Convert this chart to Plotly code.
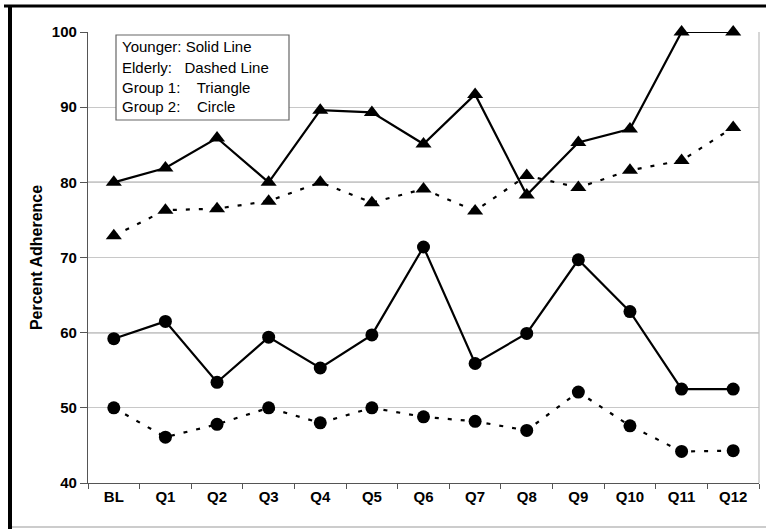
import plotly.graph_objects as go

categories = ["BL", "Q1", "Q2", "Q3", "Q4", "Q5", "Q6", "Q7", "Q8", "Q9", "Q10", "Q11", "Q12"]
younger_g1 = [80.0, 81.9, 85.9, 80.0, 89.6, 89.3, 85.1, 91.7, 78.3, 85.3, 87.1, 100.0, 100.0]
elderly_g1 = [72.9, 76.3, 76.5, 77.5, 80.0, 77.3, 79.1, 76.2, 80.9, 79.3, 81.6, 82.9, 87.3]
younger_g2 = [59.2, 61.5, 53.4, 59.4, 55.3, 59.7, 71.4, 55.9, 59.9, 69.7, 62.8, 52.5, 52.5]
elderly_g2 = [50.0, 46.1, 47.8, 50.0, 48.0, 50.0, 48.8, 48.2, 47.0, 52.1, 47.6, 44.2, 44.3]
y_ticks = [40, 50, 60, 70, 80, 90, 100]
legend_lines = ["Younger: Solid Line", "Elderly:\u00a0\u00a0 Dashed Line",
                "Group 1:\u00a0\u00a0\u00a0 Triangle", "Group 2:\u00a0\u00a0\u00a0 Circle"]

FONT = "Liberation Sans, Arial, sans-serif"
fig = go.Figure()

def add(vals, symbol, dash, size):
    fig.add_trace(go.Scatter(
        x=categories, y=vals, mode="lines+markers",
        line=dict(color="black", width=2.2, dash=dash),
        marker=dict(symbol=symbol, size=size, color="black"),
        showlegend=False, cliponaxis=False))

add(younger_g1, "triangle-up", "solid", 14)
add(elderly_g1, "triangle-up", "4px,9px", 14)
add(younger_g2, "circle", "solid", 13)
add(elderly_g2, "circle", "4px,9px", 13)

W, H = 766, 529
L, R, T, B = 88, 7, 32, 46
pw, ph = W - L - R, H - T - B

def px(x):
    return (x - L) / pw

def py(y):
    return (H - B - y) / ph

shapes = []
for v in [60, 80]:
    shapes.append(dict(type="line", xref="paper", yref="y", x0=0, x1=1, y0=v, y1=v,
                       line=dict(color="#555555", width=1.3), layer="below"))
shapes.append(dict(type="line", xref="paper", yref="paper", x0=1, x1=1, y0=0, y1=1,
                   line=dict(color="#bbbbbb", width=1.2)))
shapes.append(dict(type="line", xref="paper", yref="paper", x0=px(4), x1=px(766), y0=py(6), y1=py(6),
                   line=dict(color="black", width=3)))
shapes.append(dict(type="line", xref="paper", yref="paper", x0=px(10), x1=px(10), y0=py(5), y1=py(529),
                   line=dict(color="black", width=4)))
shapes.append(dict(type="line", xref="paper", yref="paper", x0=px(12), x1=px(766), y0=py(527), y1=py(527),
                   line=dict(color="#bbbbbb", width=1.5)))
shapes.append(dict(type="rect", xref="paper", yref="paper", x0=px(116), x1=px(289), y0=py(120), y1=py(35),
                   line=dict(color="#666666", width=1.2), fillcolor="white"))

annotations = []
for i, t in enumerate(legend_lines):
    annotations.append(dict(xref="paper", yref="paper", x=px(120), y=py(47 + 20 * i),
                            xanchor="left", yanchor="middle", showarrow=False, text=t,
                            font=dict(family=FONT, size=15, color="black")))

fig.update_layout(
    width=W, height=H,
    margin=dict(l=L, r=R, t=T, b=B),
    paper_bgcolor="white", plot_bgcolor="white",
    font=dict(family=FONT, color="black"),
    shapes=shapes, annotations=annotations,
    xaxis=dict(type="category", showgrid=False, showline=True, linecolor="#555555", linewidth=1.3,
               ticks="outside", tickson="boundaries", ticklen=5, tickcolor="#555555",
               tickfont=dict(size=15, family=FONT, weight="bold"),
               range=[-0.5, 12.5], fixedrange=True),
    yaxis=dict(range=[40, 100], tickvals=y_ticks, showgrid=True, gridcolor="#c8c8c8", gridwidth=1.3,
               showline=True, linecolor="#555555", linewidth=1.3, ticks="outside", ticklen=7,
               tickcolor="#555555", zeroline=False, fixedrange=True,
               tickfont=dict(size=15, family=FONT, weight="bold"),
               title=dict(text="Percent Adherence", standoff=5,
                          font=dict(size=16, family=FONT, weight="bold"))),
)

fig.write_html("out.html", config={"displayModeBar": False},
               post_script="document.body.style.margin='0';document.body.style.overflow='hidden';")
